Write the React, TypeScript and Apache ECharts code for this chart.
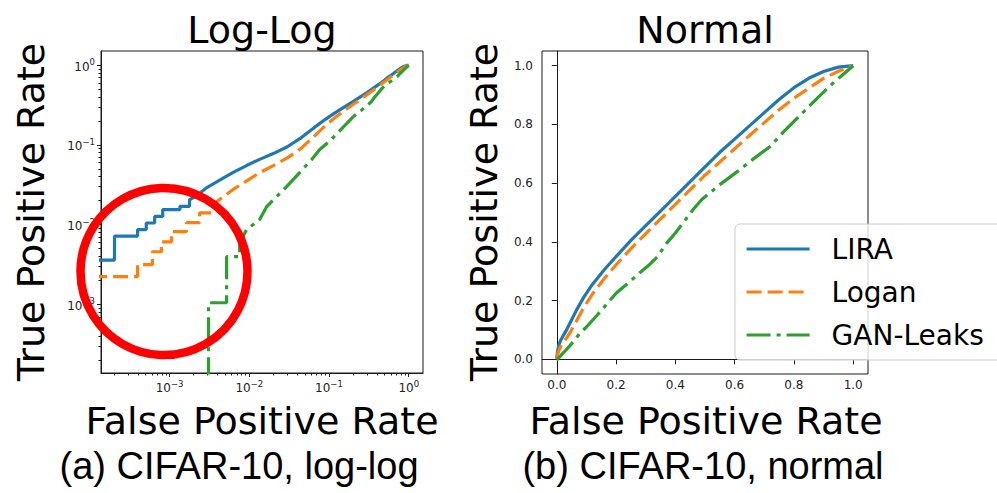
import React, { useEffect, useRef } from "react";
import * as echarts from "echarts";

// ROC curves on CIFAR-10: [false positive rate, true positive rate]
const SERIES_NAMES = ["LIRA", "Logan", "GAN-Leaks"];
const SERIES_COLORS = ["#1f77b4", "#ff7f0e", "#2ca02c"];

const liraRoc: [number, number][] = [
  [0, 0], [0, 0.0036],
  [2.04e-4, 0.0036], [2.04e-4, 0.0072],
  [3.97e-4, 0.0072], [3.97e-4, 0.0087],
  [5.1e-4, 0.0087], [5.1e-4, 0.0105],
  [6.5e-4, 0.0105], [6.5e-4, 0.0127],
  [8.2e-4, 0.0127], [8.2e-4, 0.0155],
  [1.35e-3, 0.0155], [1.35e-3, 0.017],
  [1.78e-3, 0.017], [1.78e-3, 0.0205],
  [2.3e-3, 0.024], [2.9e-3, 0.029], [4.2e-3, 0.036], [6.2e-3, 0.045],
  [0.0095, 0.056], [0.0135, 0.066], [0.02, 0.078], [0.03, 0.095],
  [0.043, 0.12], [0.065, 0.165], [0.09, 0.21], [0.12, 0.255],
  [0.16, 0.305], [0.2, 0.35], [0.25, 0.405], [0.3, 0.455],
  [0.35, 0.505], [0.4, 0.555], [0.45, 0.605], [0.5, 0.655],
  [0.55, 0.705], [0.6, 0.75], [0.65, 0.795], [0.7, 0.84],
  [0.75, 0.885], [0.8, 0.925], [0.85, 0.957], [0.9, 0.98],
  [0.95, 0.995], [1, 1],
];

const loganRoc: [number, number][] = [
  [0, 0], [0, 0.00223],
  [3.97e-4, 0.00223], [3.97e-4, 0.00315],
  [6.1e-4, 0.00315], [6.1e-4, 0.00458],
  [7.9e-4, 0.00458], [7.9e-4, 0.0061],
  [1.06e-3, 0.0061], [1.06e-3, 0.0082],
  [1.63e-3, 0.0082], [1.63e-3, 0.0106],
  [2.38e-3, 0.0106], [2.38e-3, 0.0141],
  [3.47e-3, 0.0141], [3.47e-3, 0.0178],
  [6.2e-3, 0.0275], [0.0095, 0.036], [0.0135, 0.045], [0.02, 0.055],
  [0.03, 0.069], [0.043, 0.088], [0.065, 0.128], [0.09, 0.175],
  [0.12, 0.222], [0.16, 0.275], [0.2, 0.322], [0.25, 0.377],
  [0.3, 0.428], [0.35, 0.478], [0.4, 0.528], [0.45, 0.578],
  [0.5, 0.627], [0.55, 0.672], [0.6, 0.717], [0.65, 0.762],
  [0.7, 0.806], [0.75, 0.85], [0.8, 0.889], [0.85, 0.923],
  [0.9, 0.957], [0.95, 0.981], [1, 1],
];

const ganLeaksRoc: [number, number][] = [
  [0, 0], [3.08e-3, 0],
  [3.08e-3, 1.05e-3], [5.19e-3, 1.05e-3],
  [5.19e-3, 3.97e-3], [7.57e-3, 3.97e-3],
  [7.57e-3, 5.94e-3], [9.25e-3, 8.7e-3],
  [0.0135, 0.0116], [0.0165, 0.0168], [0.0294, 0.03], [0.0428, 0.045],
  [0.06, 0.065], [0.076, 0.087], [0.1, 0.11], [0.136, 0.15],
  [0.17, 0.19], [0.2, 0.225], [0.25, 0.268], [0.28, 0.295],
  [0.31, 0.32], [0.34, 0.35], [0.37, 0.395], [0.4, 0.43],
  [0.43, 0.47], [0.46, 0.51], [0.49, 0.545], [0.55, 0.595],
  [0.61, 0.64], [0.66, 0.68], [0.72, 0.725], [0.77, 0.78],
  [0.83, 0.84], [0.88, 0.89], [0.92, 0.93], [0.96, 0.965], [1, 1],
];

const ROC_CURVES = [liraRoc, loganRoc, ganLeaksRoc];

// Tick values
const LOG_MAJOR_TICKS = [1e-3, 1e-2, 1e-1, 1];
const LOG_MINOR_DECADES = [1e-4, 1e-3, 1e-2, 1e-1];
const LOG_MINOR_MULTIPLIERS = [2, 3, 4, 5, 6, 7, 8, 9];
const LINEAR_TICKS = [0, 0.2, 0.4, 0.6, 0.8, 1.0];

// Axis extents
const LOG_MIN = 1.38e-4;
const LOG_MAX = 1.51;
const LIN_MIN = -0.05;
const LIN_MAX = 1.05;

const FONT = "DejaVu Sans";
const CAPTION_FONT = "Liberation Sans";
const TICK_COLOR = "#222";
const FRAME_COLOR = "#1a1a1a";
const LINE_WIDTH = 3.2;

const logMinorTicks: number[] = [];
for (const d of LOG_MINOR_DECADES) {
  for (const m of LOG_MINOR_MULTIPLIERS) {
    const v = +(m * d).toPrecision(3);
    if (v > LOG_MIN && v < LOG_MAX) logMinorTicks.push(v);
  }
}

// log axes cannot show zero: push non-positive rates far below the visible extent
const floorForLog = (pts: [number, number][]) =>
  pts.map(([x, y]) => [Math.max(x, 1e-7), Math.max(y, 1e-7)]);

const LINE_DASHES: any[] = ["solid", [15, 6], [24, 6, 4, 6]];

const logLabel = (v: number) => {
  const e = Math.round(Math.log10(v));
  const s = e < 0 ? "\u2212" + Math.abs(e) : String(e);
  return `{b|10}{s|${s}}`;
};

const logRich = {
  b: { fontSize: 12, fontFamily: FONT, color: TICK_COLOR, lineHeight: 15, verticalAlign: "bottom" },
  s: { fontSize: 8.5, fontFamily: FONT, color: TICK_COLOR, lineHeight: 9, verticalAlign: "top" },
};

const frameLine = { show: true, lineStyle: { color: FRAME_COLOR, width: 1 } };

function buildOption(): any {
  const series: any[] = [];
  SERIES_NAMES.forEach((name, i) => {
    const lineStyle = { color: SERIES_COLORS[i], width: LINE_WIDTH, type: LINE_DASHES[i], cap: "butt" };
    series.push({
      name,
      type: "line",
      xAxisIndex: 0,
      yAxisIndex: 0,
      data: floorForLog(ROC_CURVES[i]),
      showSymbol: false,
      symbol: "none",
      clip: true,
      lineStyle,
      itemStyle: { color: SERIES_COLORS[i] },
      z: 2 + i,
    });
    series.push({
      name,
      type: "line",
      xAxisIndex: 2,
      yAxisIndex: 2,
      data: ROC_CURVES[i],
      showSymbol: false,
      symbol: "none",
      clip: true,
      lineStyle,
      itemStyle: { color: SERIES_COLORS[i] },
      z: 2 + i,
    });
  });

  const textEl = (text: string, x: number, y: number, size: number, family = FONT, rotation = 0) => ({
    type: "text",
    x,
    y,
    rotation,
    style: {
      text,
      fill: "#000",
      font: `${size}px "${family}"`,
      align: "center",
      verticalAlign: "middle",
    },
    z: 10,
  });

  return {
    animation: false,
    backgroundColor: "#fff",
    grid: [
      { left: 101, top: 51, width: 322, height: 322, show: true, borderColor: FRAME_COLOR, borderWidth: 1, backgroundColor: "transparent" },
      { left: 542, top: 51, width: 326, height: 323, show: true, borderColor: FRAME_COLOR, borderWidth: 1, backgroundColor: "transparent" },
    ],
    xAxis: [
      {
        type: "log", gridIndex: 0, min: LOG_MIN, max: LOG_MAX, position: "bottom",
        axisLine: frameLine,
        axisTick: { show: true, length: 4, customValues: LOG_MAJOR_TICKS, lineStyle: { color: FRAME_COLOR } },
        axisLabel: { customValues: LOG_MAJOR_TICKS, formatter: logLabel, rich: logRich, margin: 6 },
        splitLine: { show: false }, minorTick: { show: false },
      },
      {
        type: "log", gridIndex: 0, min: LOG_MIN, max: LOG_MAX, position: "bottom",
        axisLine: { show: false },
        axisTick: { show: true, length: 2.5, customValues: logMinorTicks, lineStyle: { color: FRAME_COLOR } },
        axisLabel: { show: false },
        splitLine: { show: false },
      },
      {
        type: "value", gridIndex: 1, min: LIN_MIN, max: LIN_MAX, position: "bottom",
        axisLine: frameLine,
        axisTick: { show: true, length: 5, customValues: LINEAR_TICKS, lineStyle: { color: FRAME_COLOR } },
        axisLabel: {
          customValues: LINEAR_TICKS, formatter: (v: number) => v.toFixed(1),
          fontSize: 12, fontFamily: FONT, color: TICK_COLOR, margin: 5,
        },
        splitLine: { show: false },
      },
    ],
    yAxis: [
      {
        type: "log", gridIndex: 0, min: LOG_MIN, max: LOG_MAX, position: "left",
        axisLine: frameLine,
        axisTick: { show: true, length: 4, customValues: LOG_MAJOR_TICKS, lineStyle: { color: FRAME_COLOR } },
        axisLabel: { customValues: LOG_MAJOR_TICKS, formatter: logLabel, rich: logRich, margin: 6 },
        splitLine: { show: false },
      },
      {
        type: "log", gridIndex: 0, min: LOG_MIN, max: LOG_MAX, position: "left",
        axisLine: { show: false },
        axisTick: { show: true, length: 2.5, customValues: logMinorTicks, lineStyle: { color: FRAME_COLOR } },
        axisLabel: { show: false },
        splitLine: { show: false },
      },
      {
        type: "value", gridIndex: 1, min: LIN_MIN, max: LIN_MAX, position: "left",
        axisLine: frameLine,
        axisTick: { show: true, length: 5, customValues: LINEAR_TICKS, lineStyle: { color: FRAME_COLOR } },
        axisLabel: {
          customValues: LINEAR_TICKS, formatter: (v: number) => v.toFixed(1),
          fontSize: 12, fontFamily: FONT, color: TICK_COLOR, margin: 9,
        },
        splitLine: { show: false },
      },
    ],
    legend: {
      data: SERIES_NAMES,
      orient: "vertical",
      left: 735,
      top: 224,
      selectedMode: false,
      itemWidth: 63,
      itemHeight: 14,
      itemGap: 15,
      padding: [11, 30, 11, 10],
      backgroundColor: "rgba(255,255,255,0.8)",
      borderColor: "#cccccc",
      borderWidth: 1,
      borderRadius: 5,
      // legend keys show only the line sample
      itemStyle: { opacity: 0 },
      lineStyle: { width: LINE_WIDTH },
      textStyle: { fontSize: 28, fontFamily: FONT, color: "#000", padding: [0, 0, 0, 17] },
      z: 20,
    },
    series,
    graphic: [
      textEl("Log-Log", 262, 30, 38),
      textEl("Normal", 705, 30, 38),
      textEl("True Positive Rate", 31, 212, 38, FONT, Math.PI / 2),
      textEl("True Positive Rate", 484, 212, 38, FONT, Math.PI / 2),
      textEl("False Positive Rate", 262, 421, 38),
      textEl("False Positive Rate", 706, 421, 38),
      textEl("(a) CIFAR-10, log-log", 239, 466, 38, CAPTION_FONT),
      textEl("(b) CIFAR-10, normal", 703, 466, 38, CAPTION_FONT),
      {
        type: "circle",
        shape: { cx: 164, cy: 271.5, r: 83.5 },
        style: { fill: "none", stroke: "#ff0000", lineWidth: 8.5 },
        z: 30,
      },
    ],
  };
}

export default function App() {
  const ref = useRef<HTMLDivElement>(null);
  useEffect(() => {
    if (!ref.current) return;
    const chart = echarts.init(ref.current, null, { renderer: "svg" });
    chart.setOption(buildOption());
    return () => chart.dispose();
  }, []);
  return (
    <div
      ref={ref}
      style={{ position: "absolute", left: 0, top: 0, width: 997, height: 493, background: "#fff" }}
    />
  );
}
